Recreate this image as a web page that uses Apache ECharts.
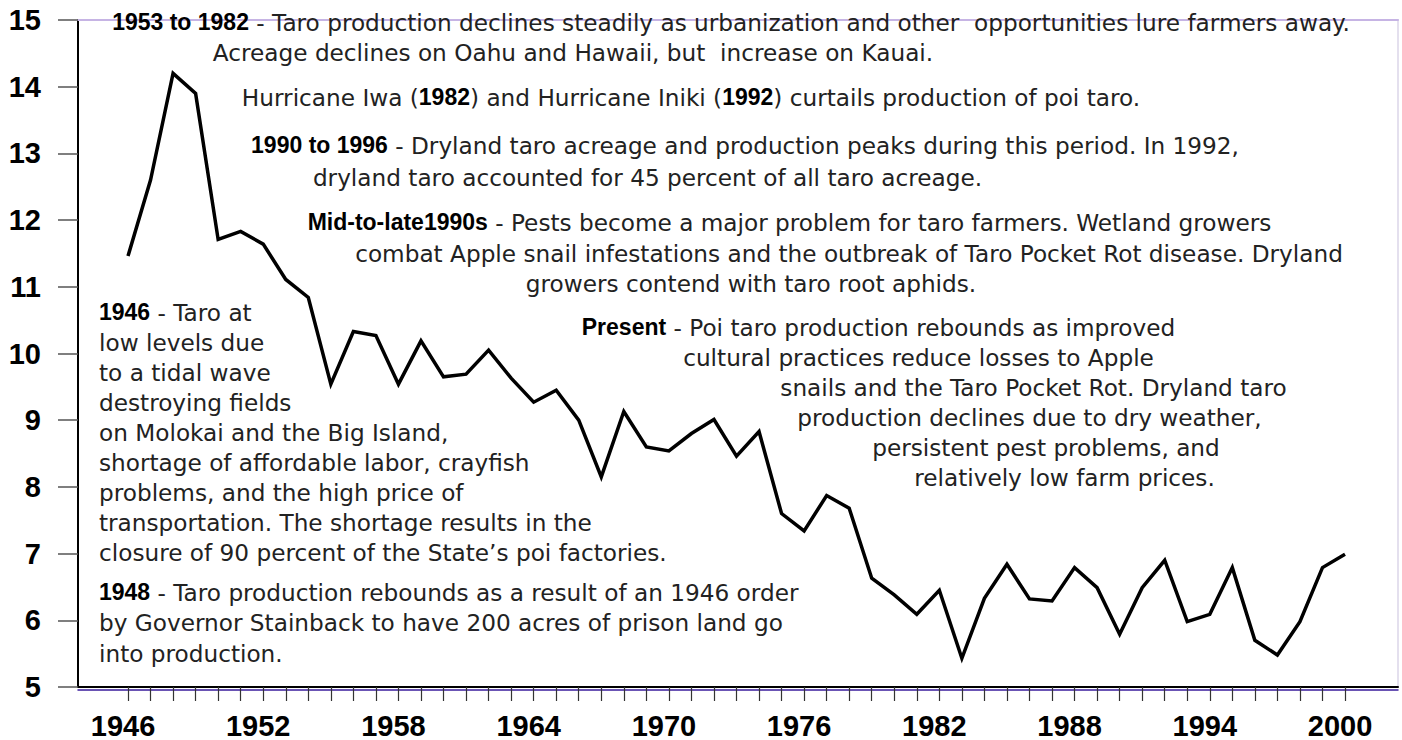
<!DOCTYPE html>
<html><head><meta charset="utf-8">
<script src="https://cdn.jsdelivr.net/npm/echarts@6/dist/echarts.min.js"></script>
<style>html,body{margin:0;padding:0;background:#fff}#c{width:1402px;height:740px}</style>
</head><body><div id="c"></div>
<script>
// ---- data ----
const years = [1946,1947,1948,1949,1950,1951,1952,1953,1954,1955,1956,1957,1958,1959,1960,1961,1962,1963,1964,1965,1966,1967,1968,1969,1970,1971,1972,1973,1974,1975,1976,1977,1978,1979,1980,1981,1982,1983,1984,1985,1986,1987,1988,1989,1990,1991,1992,1993,1994,1995,1996,1997,1998,1999,2000];
const production = [11.46,12.60,14.20,13.90,11.71,11.83,11.64,11.11,10.84,9.54,10.33,10.27,9.54,10.19,9.65,9.69,10.05,9.63,9.27,9.45,9.00,8.15,9.13,8.60,8.54,8.80,9.01,8.46,8.83,7.60,7.34,7.87,7.68,6.63,6.38,6.09,6.45,5.43,6.33,6.84,6.32,6.29,6.79,6.49,5.79,6.49,6.90,5.98,6.09,6.79,5.70,5.48,5.98,6.79,6.99];
const xLabelYears = [1946,1952,1958,1964,1970,1976,1982,1988,1994,2000];
const yRange = [5, 15];
const topNotes = [
  '{b|1953 to 1982} - Taro production declines steadily as urbanization and other  opportunities lure farmers away.',
  'Acreage declines on Oahu and Hawaii, but  increase on Kauai.',
  'Hurricane Iwa ({b|1982}) and Hurricane Iniki ({b|1992}) curtails production of poi taro.',
  '{b|1990 to 1996} - Dryland taro acreage and production peaks during this period. In 1992,',
  'dryland taro accounted for 45 percent of all taro acreage.',
  '{b|Mid-to-late1990s} - Pests become a major problem for taro farmers. Wetland growers',
  'combat Apple snail infestations and the outbreak of Taro Pocket Rot disease. Dryland',
  'growers contend with taro root aphids.'
];
const presentNotes = [
  '{b|Present} - Poi taro production rebounds as improved',
  'cultural practices reduce losses to Apple',
  'snails and the Taro Pocket Rot. Dryland taro',
  'production declines due to dry weather,',
  'persistent pest problems, and',
  'relatively low farm prices.'
];
const note1946 = [
  '{b|1946} - Taro at',
  'low levels due',
  'to a tidal wave',
  'destroying fields',
  'on Molokai and the Big Island,',
  'shortage of affordable labor, crayfish',
  'problems, and the high price of',
  'transportation. The shortage results in the',
  'closure of 90 percent of the State\u2019s poi factories.'
];
const note1948 = [
  '{b|1948} - Taro production rebounds as a result of an 1946 order',
  'by Governor Stainback to have 200 acres of prison land go',
  'into production.'
];

// ---- layout / style ----
const REG_FONT = '"DejaVu Sans"';
const BOLD_FONT = '"Liberation Sans", Arial';
const BOLD_SIZE = 23;
const cv = document.createElement('canvas').getContext('2d');
cv.font = '100px ' + REG_FONT;
const regSize = 100 * 684 / cv.measureText(note1948[1]).width;

const rich = { b: { fontFamily: BOLD_FONT, fontWeight: 'bold', fontSize: BOLD_SIZE, fill: '#000', color: '#000' } };
function txt(str, x, y, align) {
  return { type: 'text', x: x, y: y, z: 100,
    style: { text: str, fontFamily: REG_FONT, fontSize: regSize, fill: '#222',
             align: align, verticalAlign: 'middle', rich: rich } };
}
// [startX, centerY, endX]
const topPos = [[115,22,1347],[211,52,935],[245,97,1137],[245,145,1245],[307,177,988],[307,222,1272],[358,253,1340],[527,283,975]];
const presPos = [[597,327,1160],[690,357,1147],[785,387,1282],[812,417,1247],[882,447,1210],[902,477,1227]];
const graphics = [];
topNotes.forEach((s,i)=>{ const p=topPos[i]; graphics.push(txt(s,(p[0]+p[2])/2,p[1],'center')); });
presentNotes.forEach((s,i)=>{ const p=presPos[i]; graphics.push(txt(s,(p[0]+p[2])/2,p[1],'center')); });
note1946.forEach((s,i)=>{ graphics.push(txt(s,99,312+i*30,'left')); });
note1948.forEach((s,i)=>{ graphics.push(txt(s,99,592+i*30.5,'left')); });

const chart = echarts.init(document.getElementById('c'), null, { renderer: 'svg' });
chart.setOption({
  animation: false,
  backgroundColor: '#fff',
  grid: [
    { left: 78, right: 4, top: 20, bottom: 53 },
    { left: 78, right: 4, top: 20, bottom: 50 },
    { left: 128, right: 57, top: 20, bottom: 53 }
  ],
  xAxis: [
    { gridIndex: 0, type: 'value', min: 0, max: 1, position: 'bottom',
      axisLine: { show: true, onZero: false, lineStyle: { color: '#000', width: 2 } },
      axisTick: { show: false }, axisLabel: { show: false }, splitLine: { show: false } },
    { gridIndex: 0, type: 'value', min: 0, max: 1, position: 'top',
      axisLine: { show: true, onZero: false, lineStyle: { color: '#c6b4e4', width: 2 } },
      axisTick: { show: false }, axisLabel: { show: false }, splitLine: { show: false } },
    { gridIndex: 1, type: 'value', min: 0, max: 1, position: 'bottom',
      axisLine: { show: true, onZero: false, lineStyle: { color: '#3a1c9c', width: 1.5 } },
      axisTick: { show: false }, axisLabel: { show: false }, splitLine: { show: false } },
    { gridIndex: 2, type: 'value', min: years[0], max: years[years.length-1], interval: 1, position: 'bottom',
      axisLine: { show: false, onZero: false },
      axisTick: { show: true, length: 14, lineStyle: { color: '#333', width: 1.2 } },
      axisLabel: { show: true, margin: 24, fontFamily: BOLD_FONT, fontWeight: 'bold', fontSize: 29, color: '#000',
        padding: [0, 10, 0, 0],
        formatter: v => xLabelYears.indexOf(v) >= 0 ? String(v) : '' },
      splitLine: { show: false } }
  ],
  yAxis: [
    { gridIndex: 0, type: 'value', min: yRange[0], max: yRange[1], interval: 1, position: 'left',
      axisLine: { show: true, onZero: false, lineStyle: { color: '#000', width: 2 } },
      axisTick: { show: true, length: 20, lineStyle: { color: '#555', width: 1.5 } },
      axisLabel: { margin: 37, fontFamily: BOLD_FONT, fontWeight: 'bold', fontSize: 29, color: '#000' },
      splitLine: { show: false } },
    { gridIndex: 0, type: 'value', min: yRange[0], max: yRange[1], position: 'right',
      axisLine: { show: true, onZero: false, lineStyle: { color: '#e4e0ee', width: 2 } },
      axisTick: { show: false }, axisLabel: { show: false }, splitLine: { show: false } },
    { gridIndex: 1, type: 'value', min: yRange[0], max: yRange[1], show: false, axisLine: { onZero: false } },
    { gridIndex: 2, type: 'value', min: yRange[0], max: yRange[1], show: false, axisLine: { onZero: false } }
  ],
  series: [{
    type: 'line', xAxisIndex: 3, yAxisIndex: 3,
    data: years.map((y,i)=>[y, production[i]]),
    showSymbol: false, symbol: 'none',
    lineStyle: { color: '#000', width: 3.5, join: 'miter' },
    z: 5
  }],
  graphic: graphics
});
</script>
</body></html>
